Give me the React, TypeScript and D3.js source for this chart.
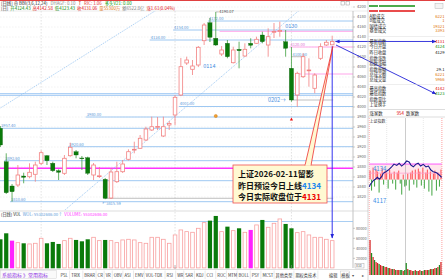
import React from "react";
import * as d3 from "d3";

// ---------- DATA ----------
const dates = [
  "2025-11-20","2025-11-21","2025-11-24","2025-11-25","2025-11-26","2025-11-27","2025-11-28",
  "2025-12-01","2025-12-02","2025-12-03","2025-12-04","2025-12-05","2025-12-08","2025-12-09","2025-12-10","2025-12-11","2025-12-12",
  "2025-12-15","2025-12-16","2025-12-17","2025-12-18","2025-12-19","2025-12-22","2025-12-23","2025-12-24","2025-12-25","2025-12-26",
  "2025-12-29","2025-12-30","2025-12-31",
  "2026-01-05","2026-01-06","2026-01-07","2026-01-08","2026-01-09","2026-01-12","2026-01-13","2026-01-14","2026-01-15","2026-01-16",
  "2026-01-19","2026-01-20","2026-01-21","2026-01-22","2026-01-23","2026-01-26","2026-01-27","2026-01-28","2026-01-29","2026-01-30",
  "2026-02-02","2026-02-03","2026-02-04","2026-02-05","2026-02-06","2026-02-09","2026-02-10","2026-02-11",
];
const opens = [3957.4,3890.6,3842,3844,3862,3860.6,3865.4,3887.4,3902.6,3887.4,3872.6,3867.4,3902.6,3910.6,3898,3898.6,3864,3861.4,3855.4,3818,
  3850.6,3870.6,3895.4,3914,3917.4,3934,3954,3960,3942,3964,3984,4024,4088,4075.4,4084,4132.6,4168.6,4137.4,4106,4127.4,
  4088.6,4115.4,4102,4127.4,4127.4,4144,4124,4150,4151,4130.6,4077.4,4024,4060.6,4073,4037.4,4097.4,4124,4124.43];
const highs = [3962,3907.4,3846,3884,3868.6,3887.4,3890.6,3913,3904,3890.6,3875.4,3904,3928.6,3914,3902,3900.6,3888,3880,3858,3878,
  3890.6,3894,3915.4,3930.6,3944,3960.6,3980.6,3980,3980.6,3972,4024,4098,4100.6,4094,4122,4168,4178,4190.07,4122,4134,
  4120.6,4130.6,4127.4,4137.4,4140.6,4150.6,4157.4,4168,4170.6,4154,4120,4070.6,4107.4,4097.4,4067.4,4127.4,4134,4142.58];
const lows = [3920,3826,3810.6,3840,3847.4,3857.4,3850.6,3884,3884,3870,3854,3864,3900.6,3897.4,3874,3864,3854,3858,3815.59,3816,
  3848,3868,3893,3907.4,3916,3932,3952,3954,3940,3954,3964,4022,4084,4064,4080,4124,4130,4122,4102,4097.4,
  4087,4077.4,4100.6,4117.4,4126,4127.4,4100.6,4138,4140.6,4100.6,4010.6,4000.6,4058,4040.6,4027.4,4094,4122,4123.43];
const closes = [3924,3828.6,3830.6,3864,3859.4,3869.4,3884,3908.6,3892.6,3872.6,3869.4,3897.4,3919.4,3904,3896.6,3867.4,3884,3862.4,3817.4,3870,
  3870.6,3886,3910.6,3915.4,3937.4,3956,3960.6,3961,3960.6,3967,4019.4,4080.6,4094,4082,4119.4,4164,4139.4,4124,4114,4100.6,
  4114,4112.6,4115.4,4123.4,4135.4,4130.6,4140.6,4151,4153,4117.4,4014,4067.4,4100.6,4074,4064,4120.6,4129.45,4131.06];
const volumes = [58000,70000,55300,51300,50000,48700,50000,60000,50000,52700,48700,55300,60000,56700,54000,58000,62000,55300,56700,55300,
  51300,56700,58000,56700,51300,50000,62000,62000,58000,50000,66700,76700,73300,72000,80000,91300,95300,104700,73300,83300,
  75300,80000,72000,76700,86700,96700,82000,90000,98700,88700,80000,71300,73300,66700,62000,62000,58000,55300];
const markedVolumeDays = ["2025-11-24", "2026-01-22"];
const monthStarts = ["2025-12-01", "2026-01-05", "2026-02-02"];

const priceTicks = d3.range(3820, 4201, 20);
const volumeTicks = [20000, 40000, 60000, 80000];

// horizontal levels: [price, start date, label?]
const blueLevels: [number, string, boolean][] = [
  [4172, "2026-01-13", true], [4154, "2026-01-05", true], [4134, "2025-12-26", true],
  [4001, "2026-01-06", true], [3980, "2025-12-11", true], [3957.4, "2025-11-20", true],
  [3920.6, "2025-12-08", true], [3892.6, "2025-11-21", true], [3852.6, "2025-11-20", false],
  [3810.6, "2025-11-24", true],
];
const pinkLevels: [number, string, boolean][] = [
  [4151.4, "2026-01-15", false], [4120, "2026-02-02", true], [4066, "2026-02-03", false],
];
const grayLevels: [number, string, string, boolean][] = [
  [4100.6, "2026-02-02", "2026-02-04", true], [4014, "2026-02-02", "2026-02-11", false],
  [3817.4, "2025-12-16", "2026-02-11", false],
];
const magentaLevel = 3877.4;
const bandLevels = [4023, 4027];
// dotted trend lines, two anchors each
const trendA: [string, number][] = [["2025-11-20", 3998], ["2025-12-26", 4188]];
const trendB: [string, number][] = [["2025-12-08", 3803], ["2026-02-02", 4180.2]];

const infoLabels = ["A股成交","B股成交","国债成交","基金成交","最新指数","今日开盘","昨日收盘","指数涨跌","指数涨幅","指数振幅","总成交额","总成交量","最高指数","最低指数","指数量比","上证换手"];
const infoValues = ["6221","1","19321","3393","4131","4124","4129","","","29.1","6221","5966","4142","4123","",""];
const infoColors = ["#e07000","#e07000","#e07000","#e07000","#e00000","#008800","#111","#111","#111","#111","#e07000","#e07000","#e00000","#008800","#111","#111"];

// intraday
const intradayMinutes = [0,4,8,13,20,27,33,41,46,55,63,74,82,91,99,107,115,124,132,138,146,155,162,170,179,188,196,204,212,223,232,240];
const intradayPrices = [4124.43,4126.3,4127.2,4128.7,4129.7,4131.1,4129.7,4131.5,4133.9,4135.0,4136.2,4138.5,4140.4,4139.5,4141.0,4139.0,
  4140.4,4142.58,4141.9,4139.7,4138.5,4140.4,4141.0,4139.0,4140.2,4138.5,4139.0,4136.2,4135.0,4134.3,4132.7,4131.06];
const intradayStrength = [9,-11,12,-7,10,8,-13,6,11,-5,9,7,-9,10,6,-4,8,-10,7,9,-4,-15,5,-7,-6,6,-11,7,9,-5,10,-8,11,8,-6,12,-9,7,10,-12,8,-16,6,9,-11,7,-7,10];
const intradayVolumes = [350,220,180,150,130,120,110,100,90,90,80,80,70,70,60,60,60,50,50,50,50,50,40,50,120,60,50,50,40,40,50,40,40,50,40,40,50,50,50,50,60,60,60,70,70,80,100,130];

const toolbarTabs = ["PSL","TRIX","BRAR","CR","VR","OBV","ASI","EMV","VOL-TDX","RSI","WR","SAR","KDJ","CCI","ROC","MTM","BOLL","PSY","MCST","其他类型","期权类技术"];

// ---------- STYLE ----------
const UP = "#f28080";
const DN = "#0a7a0a";
const DNW = "#3f9f3f";
const LB = "#93c2f0";
const PINK = "#ff9be8";
const FONT = "'Noto Sans CJK SC','DejaVu Sans',sans-serif";

export default function App() {
  const x = d3.scalePoint<string>().domain(dates).range([0.4, 332.2]);
  const y = d3.scaleLinear().domain([3800, 4200]).range([207, 7]);
  const yVol = d3.scaleLinear().domain([0, 100000]).range([268.3, 218.3]);
  const PR = 353;

  const xT = d3.scaleLinear().domain([0, 240]).range([369.3, 441.7]);
  const yI = d3.scaleLinear().domain([4117, 4145]).range([197.2, 157.6]);
  const yStr = d3.scaleLinear().domain([-20, 20]).range([199.6, 159.6]);
  const yIV = d3.scaleLinear().domain([0, 400]).range([275, 235]);
  const base = yI(4129.45);

  const trend = (a: [string, number][]) => {
    const x1 = x(a[0][0])!, y1 = y(a[0][1]), x2 = x(a[1][0])!, y2 = y(a[1][1]);
    const s = (y2 - y1) / (x2 - x1);
    return { x1: -5, y1: y1 + s * (-5 - x1), x2: PR, y2: y1 + s * (PR - x1) };
  };
  const tA = trend(trendA), tB = trend(trendB);
  const line = d3.line<number>().x((_, i) => xT(intradayMinutes[i])).y((p) => yI(p));

  const last = dates.length - 1;
  const xl = x(dates[last])!;
  let tabX = 59;

  return (
    <svg width={445} height={280} style={{ position: "fixed", left: 0, top: 0, background: "#fff" }} fontFamily={FONT}>
      <defs>
        <clipPath id="main"><rect x={0} y={11} width={PR} height={199} /></clipPath>
        <marker id="ah" viewBox="0 0 10 10" refX="9" refY="5" markerWidth="5" markerHeight="5" orient="auto-start-reverse">
          <path d="M0,1 L10,5 L0,9 z" fill="#2424d8" />
        </marker>
      </defs>
      <rect x={0} y={0} width={445} height={280} fill="#fff" />
      <line x1={0} x2={445} y1={0.5} y2={0.5} stroke="#e04040" strokeWidth={1} />

      {/* header */}
      <text x={1} y={5} fontSize={4.4}>
        <tspan fill="#222">[日线] ⊕ BBI(3,6,12,24)</tspan>
        <tspan fill="#888" dx={3}>DHAGF: 0.10</tspan>
        <tspan fill="#c00" dx={3}>T</tspan>
        <tspan fill="#e03030" dx={3}>RIC: 1.06</tspan>
        <tspan fill="#090" dx={3}>多头V21: 0.00</tspan>
      </text>
      <text x={1} y={10} fontSize={4.4}>
        <tspan fill="#222">[日]</tspan>
        <tspan fill="#008800" dx={2}>开4124.43</tspan>
        <tspan fill="#e00000" dx={2}>高4142.58</tspan>
        <tspan fill="#008800" dx={2}>低4123.43</tspan>
        <tspan fill="#e00000" dx={2}>收4131.06</tspan>
        <tspan fill="#e07000" dx={2}>量55300万</tspan>
        <tspan fill="#777" dx={2}>额6522.8亿</tspan>
        <tspan fill="#e00000" dx={2}>涨1.61(0.04%)</tspan>
      </text>
      <rect x={341} y={1.5} width={3.5} height={3.5} fill="none" stroke="#999" strokeWidth={0.5} />
      <rect x={346} y={1.5} width={3.5} height={3.5} fill="none" stroke="#999" strokeWidth={0.5} />
      <line x1={0} x2={368} y1={11} y2={11} stroke="#ddd" strokeWidth={0.6} />

      {/* main grid */}
      {priceTicks.map((p) => (
        <line key={"g" + p} x1={0} x2={PR} y1={y(p)} y2={y(p)} stroke="#e4e4e4" strokeWidth={0.5} strokeDasharray="1.5,1.5" />
      ))}
      {monthStarts.map((d) => (
        <line key={"m" + d} x1={x(d)} x2={x(d)} y1={11} y2={268} stroke="#cfcfcf" strokeWidth={0.6} strokeDasharray="1.5,1.5" />
      ))}

      <g clipPath="url(#main)">
        <rect x={0} y={y(bandLevels[1])} width={PR} height={y(bandLevels[0]) - y(bandLevels[1])} fill="#dcebfb" />
        {bandLevels.map((p) => (
          <line key={"b" + p} x1={0} x2={PR} y1={y(p)} y2={y(p)} stroke={LB} strokeWidth={0.7} />
        ))}
        {blueLevels.map(([p, d, lab]) => {
          const x0 = x(d)! - 2;
          return (
            <g key={"bl" + p}>
              <line x1={x0} x2={PR} y1={y(p)} y2={y(p)} stroke={LB} strokeWidth={0.9} />
              {lab && <text x={Math.max(x0 + 1, 1)} y={y(p) - 1.2} fontSize={4} fill="#5d9ad8">{p.toFixed(2)}</text>}
            </g>
          );
        })}
        {pinkLevels.map(([p, d, lab]) => {
          const x0 = x(d)! - 2;
          return (
            <g key={"pl" + p}>
              <line x1={x0} x2={PR} y1={y(p)} y2={y(p)} stroke={PINK} strokeWidth={0.9} />
              {lab && <text x={x0 + 1} y={y(p) - 1.2} fontSize={4} fill="#e070d0">{p.toFixed(2)}</text>}
            </g>
          );
        })}
        {grayLevels.map(([p, d0, d1, lab]) => (
          <g key={"gl" + p}>
            <line x1={x(d0)} x2={x(d1)! + 1} y1={y(p)} y2={y(p)} stroke="#b0b0b0" strokeWidth={0.8} />
            {lab && <text x={x(d0)! + 1} y={y(p) - 1.2} fontSize={4} fill="#5d9ad8">{p.toFixed(2)}</text>}
          </g>
        ))}
        <line x1={0} x2={PR} y1={y(magentaLevel)} y2={y(magentaLevel)} stroke="#ff33ff" strokeWidth={1.4} />
        <line {...tA} stroke={LB} strokeWidth={0.8} strokeDasharray="1.2,1" />
        <line {...tB} stroke={LB} strokeWidth={0.8} strokeDasharray="1.2,1" />

        {dates.map((d, i) => {
          const o = opens[i], c = closes[i], h = highs[i], l = lows[i];
          const cx = x(d)!;
          const up = c >= o;
          const yt = y(Math.max(o, c)), yb = y(Math.min(o, c));
          const bh = Math.max(yb - yt, 0.8);
          if (up) {
            return (
              <g key={d}>
                <line x1={cx} x2={cx} y1={y(h)} y2={yt} stroke={UP} strokeWidth={0.8} />
                <line x1={cx} x2={cx} y1={yt + bh} y2={y(l)} stroke={UP} strokeWidth={0.8} />
                <rect x={cx - 1.8} y={yt} width={3.6} height={bh} fill="#fff" stroke={UP} strokeWidth={0.8} />
              </g>
            );
          }
          return (
            <g key={d}>
              <line x1={cx} x2={cx} y1={y(h)} y2={y(l)} stroke={DNW} strokeWidth={0.8} />
              <rect x={cx - 2.1} y={yt} width={4.2} height={bh} fill={DN} stroke="#065806" strokeWidth={0.3} />
            </g>
          );
        })}
      </g>

      {(() => {
        const hi = 37, lo = 18;
        const xh = x(dates[hi])!, yh = y(highs[hi]);
        const xo = x(dates[lo])!, yo = y(lows[lo]);
        return (
          <g fontSize={4}>
            <line x1={xh} x2={xh + 3} y1={yh} y2={yh} stroke="#888" strokeWidth={0.5} />
            <text x={xh + 3.5} y={yh + 1.4} fill="#444">{highs[hi].toFixed(2)}</text>
            <text x={xo - 3} y={yo + 6} fill="#5d9ad8">←{lows[lo].toFixed(2)}</text>
          </g>
        );
      })()}
      <text x={x("2026-01-14")! - 12.5} y={67.5} fontSize={5.5} fill="#4a90e2">0114</text>
      <text x={x("2026-01-30")! - 0.5} y={28} fontSize={5.5} fill="#4a90e2">0130</text>
      <text x={x("2026-02-02")! - 23.5} y={102} fontSize={5.5} fill="#4a90e2">0202→</text>
      <circle cx={x("2026-01-14")} cy={116} r={1.6} fill="#f0a030" stroke="#d07000" strokeWidth={0.4} />
      <path d={`M${x("2026-02-02")! - 1.6},${120.5} L${x("2026-02-02")! + 1.6},${120.5} L${x("2026-02-02")},${117.5} Z`} fill="#ee1111" />

      {/* price axis */}
      <line x1={PR} x2={PR} y1={11} y2={268} stroke="#9a9a9a" strokeWidth={0.6} />
      {priceTicks.map((p) => (
        <g key={"t" + p}>
          <line x1={PR} x2={PR + 2} y1={y(p)} y2={y(p)} stroke="#9a9a9a" strokeWidth={0.5} />
          <text x={357} y={y(p) + 1.4} fontSize={4} fill="#666">{p}</text>
        </g>
      ))}

      {/* volume panel */}
      <line x1={0} x2={368} y1={211} y2={211} stroke="#c8c8c8" strokeWidth={0.6} />
      <text x={1} y={215.5} fontSize={4.2}>
        <tspan fill="#222">(日线) VOL</tspan>
        <tspan fill="#5d9ad8" dx={2}>WOL: 55302686.00↑</tspan>
        <tspan fill="#ff33ff" dx={2}>VOLUME: 55302686.00</tspan>
      </text>
      <line x1={0} x2={PR} y1={221.5} y2={221.5} stroke={LB} strokeWidth={0.8} />
      {volumeTicks.map((v) => (
        <g key={"vt" + v}>
          <line x1={PR} x2={PR + 2} y1={yVol(v)} y2={yVol(v)} stroke="#9a9a9a" strokeWidth={0.5} />
          <text x={356} y={yVol(v) + 1.4} fontSize={3.8} fill="#666">{v}</text>
        </g>
      ))}
      <rect x={355} y={263.5} width={9} height={4.5} fill="none" stroke="#999" strokeWidth={0.4} />
      <text x={356} y={267} fontSize={3.4} fill="#555">X10</text>
      {dates.map((d, i) => {
        const cx = x(d)!;
        const up = closes[i] >= opens[i];
        const mark = markedVolumeDays.includes(d);
        const yt = yVol(volumes[i]);
        const hh = yVol(0) - yt;
        if (mark) return <rect key={"v" + d} x={cx - 2.1} y={yt} width={4.2} height={hh} fill="#ff22ff" />;
        if (up) return <rect key={"v" + d} x={cx - 1.8} y={yt} width={3.6} height={hh - 0.4} fill="#fff" stroke="#f8a0a0" strokeWidth={0.8} />;
        return <rect key={"v" + d} x={cx - 2.1} y={yt} width={4.2} height={hh} fill={DN} />;
      })}
      {monthStarts.slice(1).map((d) => (
        <line key={"mt" + d} x1={x(d)} x2={x(d)} y1={265} y2={269} stroke="#888" strokeWidth={0.6} />
      ))}

      {/* annotations */}
      <line x1={xl} x2={xl} y1={y(lows[last]) + 1} y2={238} stroke="#3333ee" strokeWidth={1} markerEnd="url(#ah)" />
      <line x1={335.5} x2={436} y1={y(closes[last])} y2={y(closes[last])} stroke="#2424d8" strokeWidth={0.9} markerStart="url(#ah)" markerEnd="url(#ah)" />
      <line x1={336} x2={436} y1={45} y2={94} stroke="#2424d8" strokeWidth={0.9} markerEnd="url(#ah)" />
      <rect x={233} y={165} width={94} height={38} fill="#fff9d2" stroke="#f05050" strokeWidth={0.8} />
      <path d={`M305,165.3 L${xl + 0.6},${y(lows[last]) + 1.2} L311,165.3`} fill="#fff9d2" stroke="#ee3030" strokeWidth={0.8} />
      <line x1={305.6} x2={310.4} y1={165} y2={165} stroke="#fff9d2" strokeWidth={1.2} />
      <g fontSize={8} fontWeight="bold" fontFamily="'Noto Sans CJK SC',sans-serif">
        <text x={238} y={177} fill="#111">上证2026-02-11留影</text>
        <text x={238} y={188.5} fill="#111">昨日预设今日上线<tspan fill="#1e88ee">4134</tspan></text>
        <text x={238} y={200} fill="#111">今日实际收盘位于<tspan fill="#ee0000">4131</tspan></text>
      </g>

      {/* info panel */}
      <line x1={368} x2={368} y1={1} y2={280} stroke="#b8b8b8" strokeWidth={0.6} />
      <rect x={369} y={5.3} width={9} height={1.4} fill="#008800" />
      <rect x={379} y={5.3} width={36} height={1.4} fill="#008800" />
      <rect x={369} y={10.3} width={9} height={1.4} fill="#e00000" />
      <rect x={379} y={10.3} width={36} height={1.4} fill="#e00000" />
      <rect x={435} y={3.5} width={8} height={5} fill="#f4f4f4" stroke="#aaa" strokeWidth={0.4} />
      {infoLabels.map((lab, i) => {
        const yy = [17.5,22.2,27.5,32.2,43.2,48.2,54.2,59.8,64.8,70.5,75.5,80.5,89.8,94.8,100.5,105.5][i];
        return (
          <g key={lab} fontSize={4.2}>
            <text x={369.5} y={yy} fill="#222">{lab}</text>
            {infoValues[i] && <text x={444.5} y={yy} textAnchor="end" fill={infoColors[i]}>{infoValues[i]}</text>}
          </g>
        );
      })}
      <line x1={368} x2={445} y1={36.5} y2={36.5} stroke="#ddd" strokeWidth={0.5} />
      <line x1={368} x2={445} y1={84.5} y2={84.5} stroke="#ddd" strokeWidth={0.5} />
      <line x1={368} x2={445} y1={109.5} y2={109.5} stroke="#bbb" strokeWidth={0.5} />
      <text x={369.5} y={115} fontSize={4.4}>
        <tspan fill="#222">涨家数</tspan>
        <tspan fill="#e00000" dx={14}>954</tspan>
        <tspan fill="#222" dx={2}>跌家数</tspan>
      </text>
      <line x1={368} x2={445} y1={117} y2={117} stroke="#bbb" strokeWidth={0.5} />
      <text x={369.5} y={122.5} fontSize={4} fill="#333">上证指数</text>

      {/* intraday */}
      <rect x={369.3} y={yI(4140.45)} width={72.4} height={base - yI(4140.45)} fill="#ffe6ec" />
      {[386.7, 423.3].map((vx) => (
        <line key={"iv" + vx} x1={vx} x2={vx} y1={118} y2={275} stroke="#d0d0d0" strokeWidth={0.5} strokeDasharray="1,1" />
      ))}
      <line x1={xT(120)} x2={xT(120)} y1={118} y2={275} stroke="#aaa" strokeWidth={0.6} />
      <line x1={369.3} x2={369.3} y1={118} y2={276} stroke="#ff8080" strokeWidth={0.6} strokeDasharray="1,1" />
      <line x1={441.9} x2={441.9} y1={118} y2={276} stroke="#ff6060" strokeWidth={0.6} strokeDasharray="1,1" />
      {intradayStrength.map((v, i) => {
        const cx = xT(i * 5 + 2.5);
        return <line key={"s" + i} x1={cx} x2={cx} y1={base} y2={yStr(v)} stroke={v >= 0 ? "#ff3b3b" : "#2a9a2a"} strokeWidth={0.9} />;
      })}
      <line x1={369.3} x2={441.7} y1={yI(4140.45)} y2={yI(4140.45)} stroke="#ff33ff" strokeWidth={0.8} />
      <line x1={369.3} x2={441.7} y1={yI(4134)} y2={yI(4134)} stroke="#ff99cc" strokeWidth={0.7} />
      <path d={line(intradayPrices) || ""} fill="none" stroke="#1a1a8c" strokeWidth={1.1} />
      <text x={373} y={171} fontSize={6} fill="#3a8ee6">4134</text>
      <text x={373} y={202.5} fontSize={6} fill="#3a8ee6">4117</text>
      {intradayVolumes.map((v, i) => {
        const cx = xT(i * 5 + 2.5);
        return <rect key={"ivb" + i} x={cx - 0.6} y={yIV(v)} width={1.2} height={yIV(0) - yIV(v)} fill={intradayStrength[i] >= 0 ? "#d42020" : "#1f8a1f"} />;
      })}

      {/* toolbar */}
      <line x1={0} x2={368} y1={269.5} y2={269.5} stroke="#c8c8c8" strokeWidth={0.6} />
      <rect x={0.5} y={270.5} width={56} height={8} fill="#fafafa" stroke="#ccc" strokeWidth={0.4} />
      <text x={2} y={276.8} fontSize={5} fill="#8a2be2">系统指标 》常用指标</text>
      {toolbarTabs.map((t) => {
        const cjk = /[\u4e00-\u9fff]/.test(t);
        const w = t.length * (cjk ? 4.2 : 2.55) + 3;
        const x0 = tabX;
        tabX += w;
        return (
          <g key={t}>
            <text x={x0 + 1.5} y={276.6} fontSize={4.2} fill="#333">{t}</text>
            <line x1={x0 + w} x2={x0 + w} y1={270.5} y2={279} stroke="#c8c8c8" strokeWidth={0.4} />
          </g>
        );
      })}
      <text x={329} y={276.6} fontSize={4.2} fill="#333">编辑</text>
      <rect x={340.5} y={271} width={9} height={7} fill="none" stroke="#bbb" strokeWidth={0.4} />
      <text x={341.3} y={276.6} fontSize={4.2} fill="#333">模板</text>
      <text x={352} y={276.6} fontSize={4.2} fill="#555">▾</text>
      <text x={362} y={276.6} fontSize={4.2} fill="#555">▸</text>
    </svg>
  );
}
